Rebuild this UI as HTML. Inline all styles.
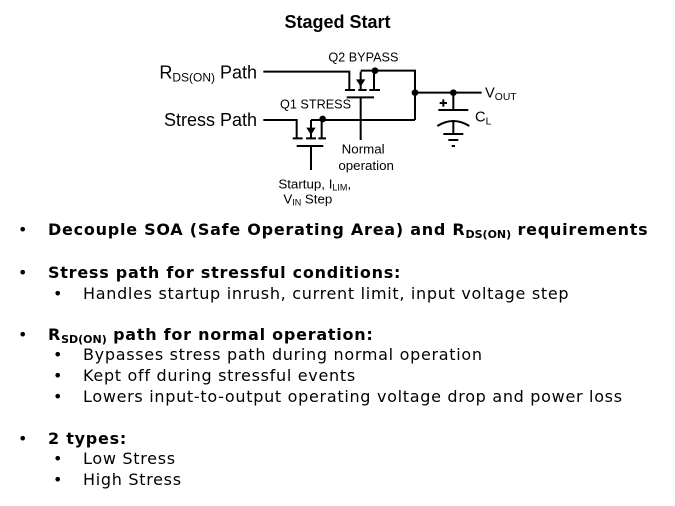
<!DOCTYPE html>
<html><head><meta charset="utf-8"><style>
body{margin:0;width:675px;height:506px;background:#fff;position:relative;overflow:hidden;font-family:"DejaVu Sans","Liberation Sans",sans-serif;color:#000}
.t{position:absolute;white-space:nowrap;line-height:1}
.b{font-weight:bold;font-size:16px;letter-spacing:0.75px}
.r{font-size:16px;letter-spacing:0.7px}
sub{font-size:11px;vertical-align:-3px;line-height:0;letter-spacing:0}
</style></head><body>
<div class="t" style="left:0;width:675px;text-align:center;top:13px;font-family:'Liberation Sans',sans-serif;font-weight:bold;font-size:18px">Staged Start</div>
<svg style="position:absolute;left:150px;top:40px" width="380" height="170" viewBox="0 0 1140 510">
<g stroke="#000" stroke-width="6" fill="none">
<path d="M340 95H598V150"/>
<path d="M585 150H615M625 150H650M658 150H690"/>
<path d="M632 95V150M672 95V150M632 92H795V240M632 172V300M590 172H672"/>
<path d="M340 240H440V295M428 295H458M468 295H498M505 295H528M483 240V295M515 240V295M483 240H795M440 318H520M483 318V390"/>
<path d="M795 158H995M910 158V210M865 210H955M862 258Q910 228 958 258M910 240V282M880 282H940M895 300H925M905 318H915"/>
<path d="M880 178V200M869 189H891"/>
</g>
<g fill="#000">
<polygon points="618,118 646,118 632,140"/><polygon points="469,263 497,263 483,285"/>
<circle cx="675" cy="92" r="10"/><circle cx="518" cy="237" r="10"/><circle cx="795" cy="158" r="10"/><circle cx="910" cy="158" r="10"/>
</g>
<g font-family="Liberation Sans,sans-serif">
<text x="28" y="115" font-size="54">R<tspan font-size="36" dy="10">DS(ON)</tspan><tspan dy="-10"> Path</tspan></text>
<text x="42" y="258" font-size="54">Stress Path</text>
<text x="535" y="65" font-size="38">Q2 BYPASS</text>
<text x="390" y="205" font-size="38">Q1 STRESS</text>
<text x="575" y="340" font-size="40">Normal</text>
<text x="565" y="390" font-size="40">operation</text>
<text x="385" y="445" font-size="40">Startup, I<tspan font-size="27" dy="6">LIM</tspan><tspan dy="-6">,</tspan></text>
<text x="400" y="490" font-size="40">V<tspan font-size="27" dy="6">IN</tspan><tspan dy="-6"> Step</tspan></text>
<text x="1005" y="172" font-size="44">V<tspan font-size="31" dy="8">OUT</tspan></text>
<text x="975" y="245" font-size="44">C<tspan font-size="31" dy="8">L</tspan></text>
</g>
</svg>
<div class="t r" style="left:18px;top:222px">•</div>
<div class="t b" style="left:48px;top:222px">Decouple SOA (Safe Operating Area) and R<sub>DS(ON)</sub> requirements</div>
<div class="t r" style="left:18px;top:265px">•</div>
<div class="t b" style="left:48px;top:265px">Stress path for stressful conditions:</div>
<div class="t r" style="left:53px;top:286px">•</div>
<div class="t r" style="left:83px;top:286px">Handles startup inrush, current limit, input voltage step</div>
<div class="t r" style="left:18px;top:327px">•</div>
<div class="t b" style="left:48px;top:327px">R<sub>SD(ON)</sub> path for normal operation:</div>
<div class="t r" style="left:53px;top:347px">•</div>
<div class="t r" style="left:83px;top:347px">Bypasses stress path during normal operation</div>
<div class="t r" style="left:53px;top:368px">•</div>
<div class="t r" style="left:83px;top:368px">Kept off during stressful events</div>
<div class="t r" style="left:53px;top:389px">•</div>
<div class="t r" style="left:83px;top:389px">Lowers input-to-output operating voltage drop and power loss</div>
<div class="t r" style="left:18px;top:431px">•</div>
<div class="t b" style="left:48px;top:431px">2 types:</div>
<div class="t r" style="left:53px;top:451px">•</div>
<div class="t r" style="left:83px;top:451px">Low Stress</div>
<div class="t r" style="left:53px;top:472px">•</div>
<div class="t r" style="left:83px;top:472px">High Stress</div>
</body></html>
